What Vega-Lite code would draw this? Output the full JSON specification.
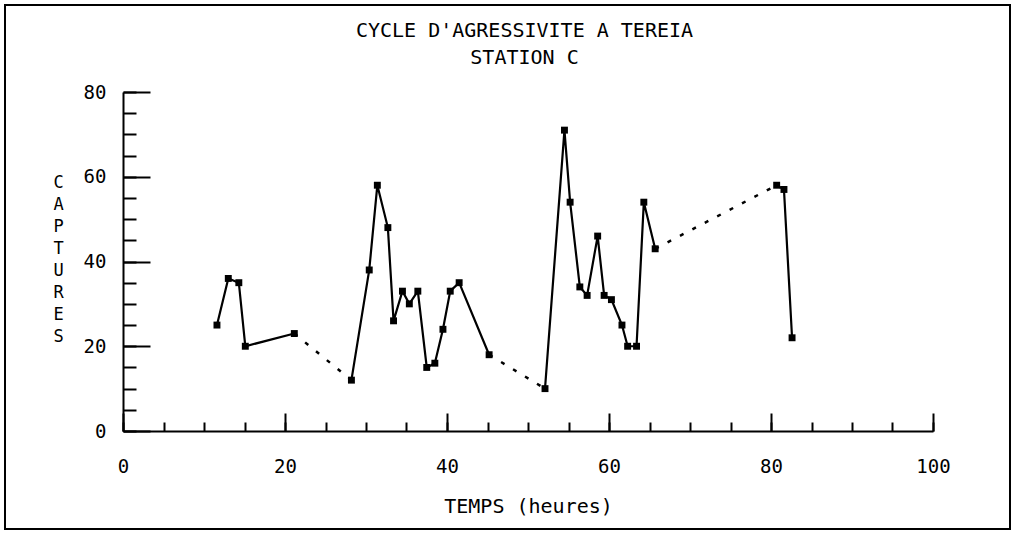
{
  "$schema": "https://vega.github.io/schema/vega-lite/v6.json",
  "autosize": {"type": "none"},
  "padding": {"left": 5, "top": 5, "right": 5, "bottom": 6},
  "width": 1005,
  "height": 524,
  "background": "white",
  "title": {
    "text": "CYCLE D'AGRESSIVITE A TEREIA",
    "subtitle": "STATION C",
    "anchor": "middle",
    "frame": "group",
    "offset": -63,
    "dx": 17,
    "font": "DejaVu Sans Mono",
    "fontSize": 20,
    "fontWeight": "normal",
    "color": "black",
    "subtitleFont": "DejaVu Sans Mono",
    "subtitleFontSize": 20,
    "subtitleColor": "black",
    "subtitlePadding": 7
  },
  "datasets": {
    "pts": [
      {"h": 11.6, "n": 25, "seg": "a"},
      {"h": 13.0, "n": 36, "seg": "a"},
      {"h": 14.3, "n": 35, "seg": "a"},
      {"h": 15.1, "n": 20, "seg": "a"},
      {"h": 21.15, "n": 23, "seg": "a"},
      {"h": 28.2, "n": 12, "seg": "b"},
      {"h": 30.4, "n": 38, "seg": "b"},
      {"h": 31.4, "n": 58, "seg": "b"},
      {"h": 32.7, "n": 48, "seg": "b"},
      {"h": 33.4, "n": 26, "seg": "b"},
      {"h": 34.5, "n": 33, "seg": "b"},
      {"h": 35.35, "n": 30, "seg": "b"},
      {"h": 36.4, "n": 33, "seg": "b"},
      {"h": 37.5, "n": 15, "seg": "b"},
      {"h": 38.5, "n": 16, "seg": "b"},
      {"h": 39.5, "n": 24, "seg": "b"},
      {"h": 40.4, "n": 33, "seg": "b"},
      {"h": 41.5, "n": 35, "seg": "b"},
      {"h": 45.2, "n": 18, "seg": "b"},
      {"h": 52.1, "n": 10, "seg": "c"},
      {"h": 54.5, "n": 71, "seg": "c"},
      {"h": 55.2, "n": 54, "seg": "c"},
      {"h": 56.4, "n": 34, "seg": "c"},
      {"h": 57.3, "n": 32, "seg": "c"},
      {"h": 58.6, "n": 46, "seg": "c"},
      {"h": 59.4, "n": 32, "seg": "c"},
      {"h": 60.3, "n": 31, "seg": "c"},
      {"h": 61.6, "n": 25, "seg": "c"},
      {"h": 62.3, "n": 20, "seg": "c"},
      {"h": 63.4, "n": 20, "seg": "c"},
      {"h": 64.3, "n": 54, "seg": "c"},
      {"h": 65.7, "n": 43, "seg": "c"},
      {"h": 80.7, "n": 58, "seg": "d"},
      {"h": 81.6, "n": 57, "seg": "d"},
      {"h": 82.6, "n": 22, "seg": "d"}
    ],
    "gaps": [
      {"h": 21.15, "n": 23, "gap": "g1"},
      {"h": 28.2, "n": 12, "gap": "g1"},
      {"h": 45.2, "n": 18, "gap": "g2"},
      {"h": 52.1, "n": 10, "gap": "g2"},
      {"h": 65.7, "n": 43, "gap": "g3"},
      {"h": 80.7, "n": 58, "gap": "g3"}
    ]
  },
  "layer": [
    {
      "data": {"name": "pts"},
      "mark": {"type": "line", "color": "black", "strokeWidth": 2.2},
      "encoding": {
        "x": {
          "field": "h", "type": "quantitative",
          "scale": {"domain": [0, 100], "range": [118, 928], "nice": false},
          "axis": {
            "orient": "bottom", "offset": -98, "values": [0,5,10,15,20,25,30,35,40,45,50,55,60,65,70,75,80,85,90,95,100],
            "tickSize": -9, "tickWidth": 2, "tickColor": "black", "labels": false,
            "domain": true, "domainWidth": 2, "domainColor": "black", "grid": false, "title": null
          }
        },
        "y": {
          "field": "n", "type": "quantitative",
          "scale": {"domain": [0, 80], "range": [426, 87], "nice": false},
          "axis": {
            "orient": "left", "offset": -118, "values": [0,5,10,15,20,25,30,35,40,45,50,55,60,65,70,75,80],
            "tickSize": -13, "tickWidth": 2, "tickColor": "black", "labels": false,
            "domain": true, "domainWidth": 2, "domainColor": "black", "grid": false, "title": null
          }
        },
        "detail": {"field": "seg"}
      }
    },
    {
      "data": {"name": "gaps"},
      "mark": {"type": "line", "color": "black", "strokeWidth": 2.5, "strokeDash": [4, 10]},
      "encoding": {
        "x": {"field": "h", "type": "quantitative", "axis": null},
        "y": {"field": "n", "type": "quantitative", "axis": null},
        "detail": {"field": "gap"}
      }
    },
    {
      "data": {"name": "pts"},
      "mark": {"type": "point", "shape": "square", "filled": true, "color": "black", "size": 48, "opacity": 1},
      "encoding": {
        "x": {
          "field": "h", "type": "quantitative",
          "axis": {
            "orient": "bottom", "offset": -98, "values": [0, 20, 40, 60, 80, 100],
            "tickSize": -18, "tickWidth": 2, "tickColor": "black",
            "domain": false, "grid": false,
            "labelFont": "DejaVu Sans Mono", "labelFontSize": 19, "labelColor": "black", "labelPadding": 44,
            "labelBaseline": "top", "labelFlush": false,
            "title": "TEMPS (heures)", "titleFont": "DejaVu Sans Mono", "titleFontSize": 20, "titleFontWeight": "normal",
            "titleColor": "black", "titleBaseline": "alphabetic", "titleY": 81, "titleAnchor": "middle"
          }
        },
        "y": {
          "field": "n", "type": "quantitative",
          "axis": {
            "orient": "left", "offset": -118, "values": [0, 20, 40, 60, 80],
            "tickSize": -27, "tickWidth": 2, "tickColor": "black",
            "domain": false, "grid": false,
            "labelFont": "DejaVu Sans Mono", "labelFontSize": 19, "labelColor": "black", "labelPadding": 44,
            "labelFlush": false,
            "title": ["C", "A", "P", "T", "U", "R", "E", "S"], "titleAngle": 0, "titleFont": "DejaVu Sans Mono",
            "titleFontSize": 17, "titleFontWeight": "normal", "titleColor": "black", "titleLineHeight": 22,
            "titleAlign": "center", "titleBaseline": "top", "titleX": -65, "titleY": 169
          }
        }
      }
    }
  ],
  "resolve": {"axis": {"x": "independent", "y": "independent"}},
  "config": {
    "view": {"stroke": "black", "strokeWidth": 2},
    "font": "DejaVu Sans Mono"
  }
}
